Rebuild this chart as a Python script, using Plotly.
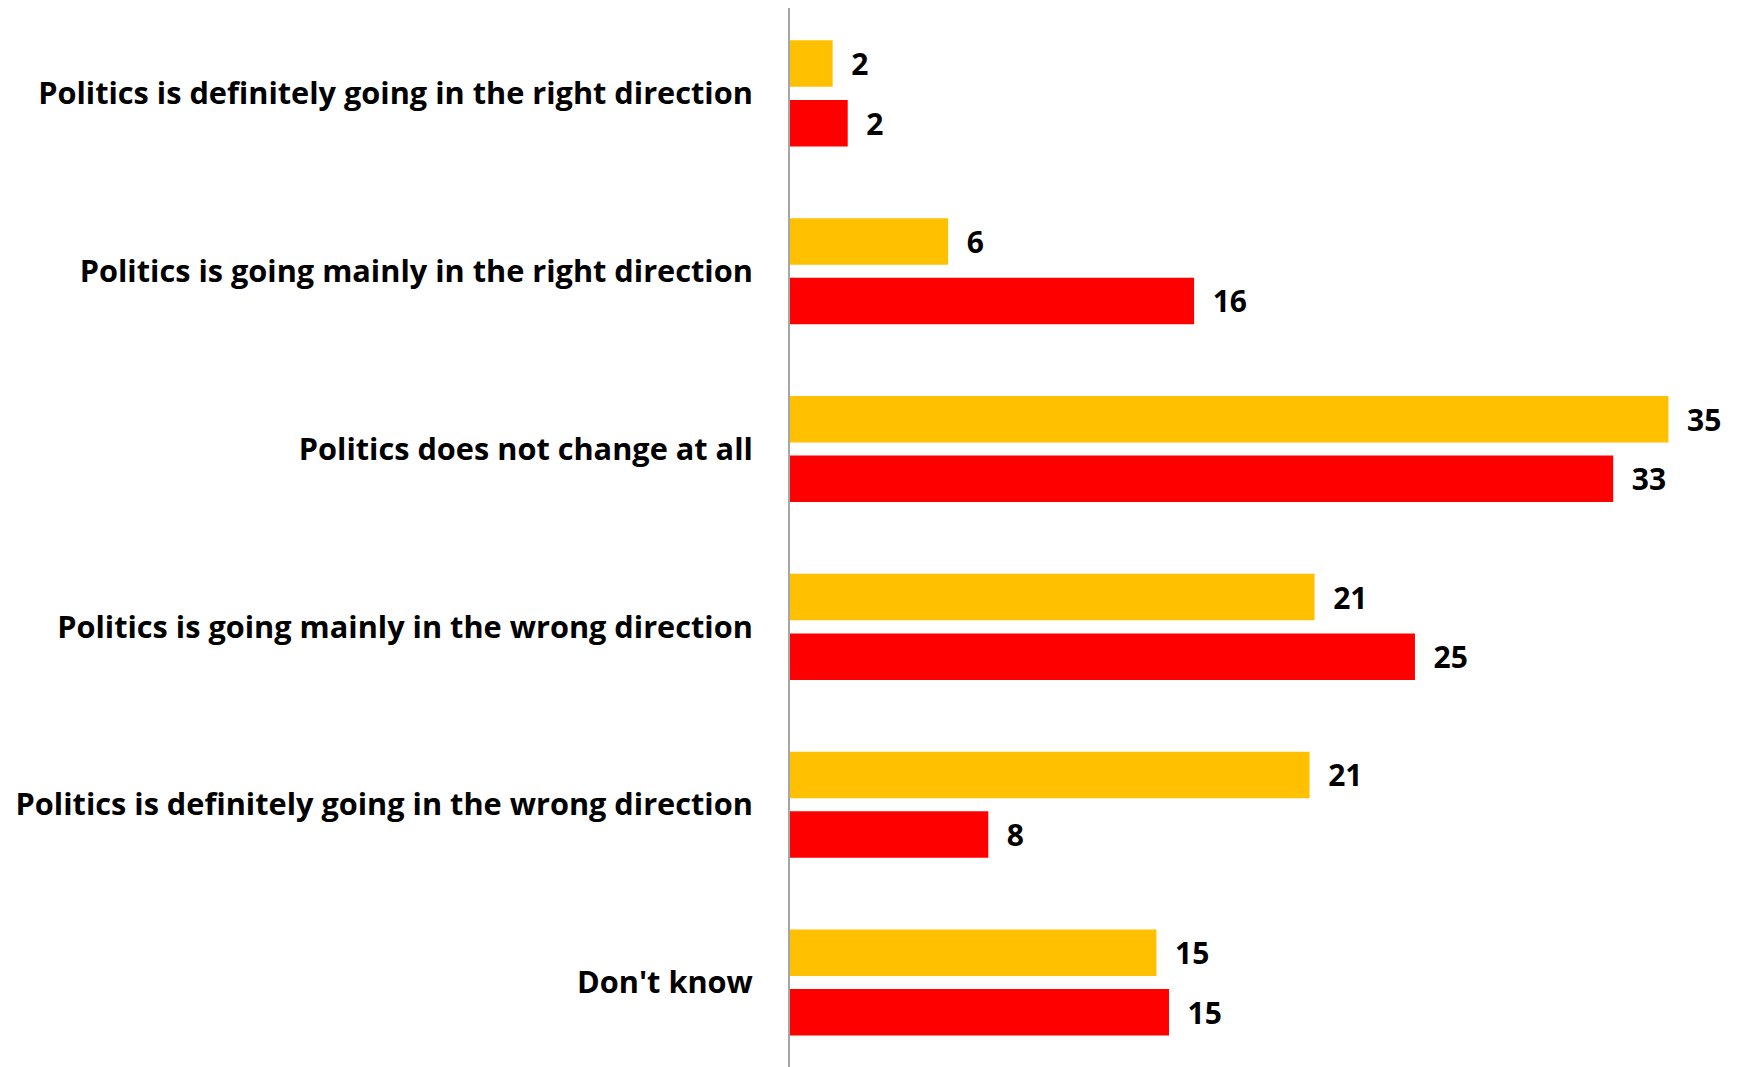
import plotly.graph_objects as go

categories = [
    "Politics is definitely going in the right direction",
    "Politics is going mainly in the right direction",
    "Politics does not change at all",
    "Politics is going mainly in the wrong direction",
    "Politics is definitely going in the wrong direction",
    "Don't know",
]
series_a = [1.7, 6.3, 35.0, 20.9, 20.7, 14.6]   # yellow
series_b = [2.3, 16.1, 32.8, 24.9, 7.9, 15.1]   # red

FONT = "Open Sans"

fig = go.Figure()
for vals, color in [(series_a, "#FFC000"), (series_b, "#FF0000")]:
    fig.add_trace(go.Bar(
        y=categories, x=vals, orientation="h",
        marker=dict(color=color, line=dict(width=0)),
        texttemplate="  %{x:.0f}", textposition="outside",
        textfont=dict(family=FONT, size=30, color="black", weight="bold"),
        cliponaxis=False, showlegend=False,
    ))

fig.update_layout(
    width=1743, height=1067,
    margin=dict(l=782, r=8, t=0, b=0, autoexpand=False),
    plot_bgcolor="white", paper_bgcolor="white",
    barmode="group", bargap=0.33, bargroupgap=0.22,
    xaxis=dict(range=[0, 37.97], visible=False, showgrid=False, zeroline=False),
    yaxis=dict(range=[5.52, -0.48], showgrid=False, zeroline=False,
               showline=True, linecolor="#a6a6a6", linewidth=2,
               ticks="", ticklabelstandoff=29, automargin=False,
               tickfont=dict(family=FONT, size=30.7, color="black", weight="bold")),
)

fig.write_html("out.html")
